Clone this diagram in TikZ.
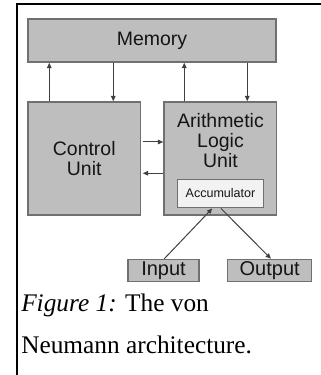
\documentclass[tikz,border=0pt]{standalone}
\usepackage{fontspec}
\setmainfont{Liberation Serif}
\newfontfamily\hv{Liberation Sans}
\usetikzlibrary{arrows.meta,calc}
\definecolor{boxfill}{HTML}{BEBEBE}
\definecolor{boxline}{HTML}{707070}
\definecolor{accfill}{HTML}{F2F2F2}
\definecolor{arrcol}{HTML}{404040}
\definecolor{txt}{HTML}{151515}
\begin{document}
\begin{tikzpicture}[x=0.75pt,y=-0.75pt,
  unitbox/.style={draw=boxline,fill=boxfill,line width=1.1pt,inner sep=0pt,
    font=\hv\fontsize{14.6pt}{15pt}\selectfont,text=txt,align=center},
  iobox/.style={unitbox,font=\hv\fontsize{15pt}{15pt}\selectfont,text height=0.72em,text depth=0pt},
  accbox/.style={draw=boxline,fill=accfill,line width=1.1pt,inner sep=0pt,
    font=\hv\fontsize{9.4pt}{10pt}\selectfont,text=txt},
  flow/.style={draw=arrcol,line width=0.75pt,-{Triangle[length=4pt,width=3.4pt]}},
  frameline/.style={draw=black,line width=1.1pt},
  captext/.style={anchor=base west,inner sep=0pt,font=\fontsize{19pt}{20pt}\selectfont}
]
\useasboundingbox (0,0) rectangle (321,375);
\draw[frameline] (17,375) -- (17,4) -- (321,4);

\node[unitbox,minimum width=248*0.75pt,minimum height=43*0.75pt] (mem) at (152,40.5) {Memory};
\node[unitbox,minimum width=112.5*0.75pt,minimum height=113*0.75pt] (cu) at (84.25,158.5) {Control\\Unit};
\node[unitbox,minimum width=112.5*0.75pt,minimum height=113*0.75pt] (alu) at (220.25,158.5) {};
\node[anchor=north,inner sep=0pt,align=center,text=txt,font=\hv\fontsize{14.6pt}{14.8pt}\selectfont] (alutext) at (220.5,113.3) {Arithmetic\\Logic\\Unit};
\node[accbox,minimum width=85.6*0.75pt,minimum height=28.4*0.75pt] (acc) at (220.5,193.5) {Accumulator};
\node[iobox,minimum width=71*0.75pt,minimum height=22*0.75pt] (in) at (163.5,270.5) {Input};
\node[iobox,minimum width=84*0.75pt,minimum height=22*0.75pt] (out) at (269.7,270.5) {Output};

% memory links
\draw[flow] ($(cu.north west)+(22,0)$) -- ($(mem.south west)+(22,0)$);
\draw[flow] ($(mem.south west)+(86,0)$) -- ($(cu.north west)+(86,0)$);
\draw[flow] ($(alu.north west)+(21,0)$) -- ($(mem.south west)+(157,0)$);
\draw[flow] ($(mem.south west)+(220,0)$) -- ($(alu.north west)+(84,0)$);
% CU <-> ALU
\draw[flow] ($(cu.north east)+(1.5,40.7)$) -- ($(alu.north west)+(0,40.7)$);
\draw[flow] ($(alu.north west)+(0,72)$) -- ($(cu.north east)+(1.5,72)$);
% I/O
\draw[flow] ($(in.north west)+(37,0)$) -- ($(acc.south west)+(35.3,0)$);
\draw[flow] ($(acc.south west)+(44,0)$) -- ($(out.north west)+(44,0)$);

\node[captext] (cap1) at (21,311) {\textit{Figure 1:} The von};
\node[captext] (cap2) at (21,353) {Neumann architecture.};
\end{tikzpicture}
\end{document}
